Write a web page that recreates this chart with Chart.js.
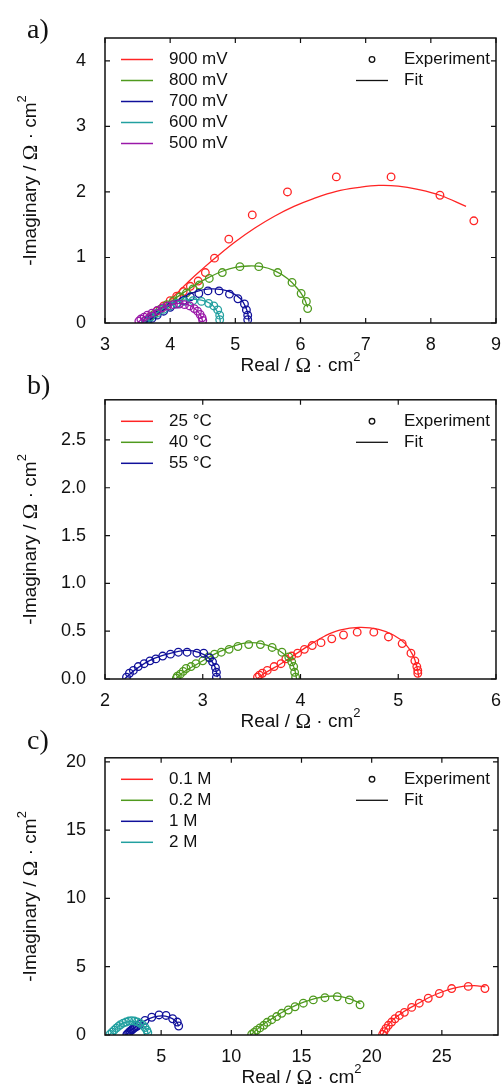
<!DOCTYPE html>
<html>
<head>
<meta charset="utf-8">
<script src="https://cdn.jsdelivr.net/npm/chart.js@4.4.1/dist/chart.umd.min.js"></script>
<style>
  body { margin: 0; background: #fff; width: 504px; height: 1089px; position: relative; overflow: hidden; }
  canvas { position: absolute; left: 0; }
  .lbl { position: absolute; left: 27px; font-family: 'Liberation Serif', 'DejaVu Serif', serif; font-size: 28px; color: #111; line-height: 30px; }
</style>
</head>
<body>
<canvas id="chartA" width="504" height="378" style="top:0px"></canvas>
<canvas id="chartB" width="504" height="358" style="top:378px"></canvas>
<canvas id="chartC" width="504" height="353" style="top:736px"></canvas>
<div class="lbl" style="top:14px">a)</div>
<div class="lbl" style="top:370px">b)</div>
<div class="lbl" style="top:725px">c)</div>
<script>
// ---- panel a: potential ----
const labelsA = ['900 mV', '800 mV', '700 mV', '600 mV', '500 mV'];
const exp900 = [[8.66,1.56],[8.14,1.95],[7.39,2.23],[6.55,2.23],[5.80,2.00],[5.26,1.65],[4.90,1.28],[4.68,0.99],[4.54,0.77],[4.43,0.64],[4.31,0.56],[4.20,0.48],[4.10,0.41],[4.00,0.34],[3.90,0.26],[3.80,0.18],[3.70,0.10],[3.62,0.04]];
const fit900 = [[3.62,0.02],[3.80,0.17],[3.95,0.30],[4.10,0.45],[4.30,0.65],[4.50,0.83],[4.70,1.00],[5.00,1.24],[5.30,1.45],[5.60,1.63],[5.90,1.78],[6.20,1.90],[6.55,2.01],[6.90,2.07],[7.20,2.10],[7.50,2.09],[7.80,2.04],[8.14,1.95],[8.54,1.78]];
const exp800 = [[6.11,0.22],[6.09,0.33],[6.01,0.45],[5.87,0.62],[5.65,0.77],[5.36,0.86],[5.07,0.86],[4.80,0.77],[4.60,0.68],[4.45,0.58],[4.35,0.52],[4.25,0.46],[4.15,0.40],[4.05,0.34],[3.95,0.28],[3.85,0.21],[3.75,0.13],[3.67,0.06]];
const fit800 = [[3.63,0.02],[3.80,0.17],[4.00,0.32],[4.20,0.46],[4.40,0.59],[4.60,0.70],[4.80,0.79],[5.00,0.85],[5.20,0.87],[5.40,0.86],[5.60,0.80],[5.80,0.68],[5.95,0.53],[6.05,0.39],[6.11,0.24]];
const exp700 = [[5.19,0.05],[5.19,0.12],[5.17,0.20],[5.14,0.29],[5.04,0.37],[4.91,0.44],[4.75,0.49],[4.58,0.49],[4.44,0.45],[4.31,0.40],[4.20,0.34],[4.10,0.29],[4.00,0.24],[3.90,0.18],[3.80,0.12],[3.72,0.07],[3.65,0.03]];
const fit700 = [[3.62,0.00],[3.80,0.13],[4.00,0.27],[4.20,0.40],[4.40,0.48],[4.60,0.52],[4.80,0.51],[4.95,0.46],[5.08,0.37],[5.16,0.24],[5.20,0.10],[5.21,0.02]];
const exp600 = [[4.76,0.05],[4.76,0.12],[4.73,0.20],[4.67,0.26],[4.59,0.30],[4.48,0.33],[4.35,0.34],[4.22,0.33],[4.10,0.30],[4.00,0.26],[3.90,0.21],[3.80,0.15],[3.70,0.09],[3.62,0.04]];
const fit600 = [[3.58,0.00],[3.80,0.16],[4.00,0.28],[4.20,0.35],[4.40,0.36],[4.55,0.33],[4.65,0.27],[4.72,0.18],[4.76,0.08],[4.77,0.01]];
const exp500 = [[3.52,0.03],[3.55,0.06],[3.60,0.09],[3.65,0.12],[3.72,0.15],[3.80,0.19],[3.88,0.23],[3.96,0.26],[4.05,0.28],[4.14,0.29],[4.22,0.28],[4.30,0.26],[4.37,0.22],[4.42,0.18],[4.46,0.13],[4.49,0.08],[4.50,0.04]];
const fit500 = [[3.50,0.00],[3.60,0.09],[3.80,0.20],[4.00,0.28],[4.15,0.30],[4.30,0.27],[4.40,0.20],[4.47,0.11],[4.50,0.02]];
const xTicksA = [3, 4, 5, 6, 7, 8, 9];
const yTicksA = [0, 1, 2, 3, 4];

// ---- panel b: temperature ----
const labelsB = ['25 °C', '40 °C', '55 °C'];
const exp25 = [[5.20,0.06],[5.20,0.09],[5.19,0.13],[5.17,0.19],[5.13,0.27],[5.04,0.37],[4.90,0.44],[4.75,0.49],[4.58,0.49],[4.44,0.46],[4.32,0.42],[4.21,0.38],[4.12,0.35],[4.04,0.31],[3.97,0.27],[3.91,0.24],[3.85,0.21],[3.80,0.16],[3.73,0.13],[3.66,0.09],[3.61,0.06],[3.58,0.04],[3.56,0.02]];
const fit25 = [[3.55,0.00],[3.65,0.07],[3.80,0.16],[3.95,0.26],[4.10,0.36],[4.25,0.45],[4.40,0.51],[4.60,0.54],[4.80,0.52],[4.95,0.46],[5.07,0.37],[5.15,0.25],[5.19,0.13],[5.21,0.02]];
const exp40 = [[3.95,0.02],[3.94,0.07],[3.93,0.13],[3.91,0.18],[3.88,0.23],[3.81,0.28],[3.71,0.33],[3.59,0.36],[3.47,0.36],[3.36,0.34],[3.27,0.31],[3.19,0.28],[3.12,0.26],[3.06,0.23],[3.00,0.19],[2.93,0.16],[2.88,0.13],[2.83,0.11],[2.80,0.08],[2.77,0.05],[2.74,0.03],[2.73,0.01]];
const fit40 = [[2.72,0.00],[2.80,0.07],[2.95,0.16],[3.10,0.25],[3.25,0.32],[3.40,0.37],[3.50,0.38],[3.60,0.37],[3.72,0.33],[3.82,0.27],[3.90,0.19],[3.94,0.10],[3.96,0.00]];
const exp55 = [[3.14,0.02],[3.14,0.07],[3.13,0.12],[3.10,0.18],[3.07,0.22],[3.01,0.27],[2.94,0.27],[2.84,0.28],[2.75,0.28],[2.67,0.26],[2.59,0.24],[2.52,0.21],[2.46,0.19],[2.40,0.16],[2.34,0.13],[2.29,0.09],[2.25,0.06],[2.22,0.02]];
const fit55 = [[2.20,0.00],[2.30,0.09],[2.45,0.19],[2.60,0.25],[2.75,0.29],[2.85,0.30],[2.95,0.28],[3.05,0.23],[3.12,0.14],[3.15,0.02]];
const xTicksB = [2, 3, 4, 5, 6];
const yTicksB = [0, 0.5, 1.0, 1.5, 2.0, 2.5];

// ---- panel c: concentration ----
const labelsC = ['0.1 M', '0.2 M', '1 M', '2 M'];
const exp01 = [[28.07,3.40],[26.88,3.56],[25.70,3.40],[24.82,3.04],[24.03,2.69],[23.39,2.33],[22.85,2.02],[22.33,1.66],[21.97,1.43],[21.66,1.19],[21.42,0.95],[21.19,0.71],[21.02,0.48],[20.88,0.24],[20.78,0.05]];
const fit01 = [[20.75,0.00],[20.90,0.30],[21.10,0.65],[21.40,1.00],[21.80,1.35],[22.30,1.72],[22.90,2.08],[23.50,2.42],[24.20,2.80],[25.00,3.15],[25.80,3.42],[26.60,3.58],[27.30,3.62],[28.10,3.52]];
const exp02 = [[19.17,2.21],[18.41,2.57],[17.55,2.80],[16.67,2.73],[15.84,2.57],[15.13,2.33],[14.54,2.07],[14.06,1.83],[13.59,1.59],[13.23,1.35],[12.88,1.12],[12.55,0.93],[12.31,0.71],[12.04,0.52],[11.81,0.36],[11.62,0.19],[11.45,0.05]];
const fit02 = [[11.40,0.00],[11.80,0.38],[12.30,0.80],[12.90,1.20],[13.60,1.65],[14.40,2.08],[15.20,2.42],[16.00,2.68],[16.80,2.82],[17.50,2.85],[18.20,2.72],[18.80,2.50],[19.20,2.30]];
const exp1 = [[6.25,0.66],[6.15,0.95],[5.82,1.19],[5.35,1.43],[4.85,1.47],[4.33,1.30],[3.85,1.07],[3.49,0.78],[3.30,0.66],[3.17,0.58],[3.06,0.50],[2.96,0.42],[2.87,0.34],[2.78,0.26],[2.70,0.18],[2.62,0.10],[2.55,0.02]];
const fit1 = [[2.50,0.00],[2.80,0.30],[3.20,0.60],[3.70,0.95],[4.20,1.22],[4.80,1.38],[5.30,1.38],[5.80,1.20],[6.10,0.95],[6.25,0.65]];
const exp2 = [[4.05,0.18],[3.98,0.36],[3.85,0.55],[3.70,0.72],[3.50,0.86],[3.30,0.96],[3.10,1.02],[2.90,1.04],[2.70,1.02],[2.50,0.95],[2.30,0.87],[2.10,0.75],[1.95,0.63],[1.80,0.50],[1.65,0.36],[1.50,0.20],[1.35,0.05]];
const fit2 = [[1.30,0.00],[1.60,0.32],[2.00,0.68],[2.40,0.90],[2.80,1.00],[3.20,0.97],[3.55,0.82],[3.80,0.60],[4.00,0.32],[4.08,0.10]];
const xTicksC = [5, 10, 15, 20, 25];
const yTicksC = [0, 5, 10, 15, 20];

const RED = '#ff2424', GREEN = '#4f9a1e', BLUE = '#10109a', TEAL = '#22a0a0', PURPLE = '#9a18a8';
const SANS = "'Liberation Sans', Arial, sans-serif";
const SERIF = "'Liberation Serif', 'DejaVu Serif', serif";

const pts = arr => arr.map(p => ({ x: p[0], y: p[1] }));

// box, inward ticks, axis titles and the two legends
const framePlugin = {
  id: 'frame',
  afterDraw(chart, args, opts) {
    const { ctx, chartArea: a, scales } = chart;
    ctx.save();
    ctx.strokeStyle = '#111';
    ctx.lineWidth = 1.5;
    ctx.strokeRect(a.left, a.top, a.right - a.left, a.bottom - a.top);
    ctx.lineWidth = 1.2;
    ctx.beginPath();
    scales.x.ticks.forEach(t => {
      const px = scales.x.getPixelForValue(t.value);
      ctx.moveTo(px, a.bottom); ctx.lineTo(px, a.bottom - 5);
      ctx.moveTo(px, a.top); ctx.lineTo(px, a.top + 5);
    });
    scales.y.ticks.forEach(t => {
      const py = scales.y.getPixelForValue(t.value);
      ctx.moveTo(a.left, py); ctx.lineTo(a.left + 5, py);
      ctx.moveTo(a.right, py); ctx.lineTo(a.right - 5, py);
    });
    ctx.stroke();

    // axis titles
    drawUnit(ctx, 'Real / ', (a.left + a.right) / 2, a.bottom + 43, false);
    drawUnit(ctx, '-Imaginary / ', 31, (a.top + a.bottom) / 2, true);

    // legend
    ctx.font = '17px ' + SANS;
    ctx.fillStyle = '#111';
    ctx.textBaseline = 'middle';
    ctx.textAlign = 'left';
    const y0 = a.top + 21.5;
    opts.labels.forEach((lab, i) => {
      const y = y0 + i * 21;
      ctx.strokeStyle = opts.colors[i];
      ctx.lineWidth = 1.5;
      ctx.beginPath(); ctx.moveTo(121, y); ctx.lineTo(153, y); ctx.stroke();
      ctx.fillText(lab, 169, y);
    });
    ctx.strokeStyle = '#111';
    ctx.lineWidth = 1.3;
    ctx.beginPath(); ctx.arc(372, y0, 2.8, 0, Math.PI * 2); ctx.stroke();
    ctx.fillText('Experiment', 404, y0);
    ctx.beginPath(); ctx.moveTo(356, y0 + 21); ctx.lineTo(388, y0 + 21); ctx.stroke();
    ctx.fillText('Fit', 404, y0 + 21);
    ctx.restore();
  }
};

function drawUnit(ctx, head, cx, cy, rotate) {
  const parts = [
    { t: head, f: '19px ' + SANS, dy: 0 },
    { t: 'Ω', f: '21px ' + SERIF, dy: 0 },
    { t: ' · cm', f: '19px ' + SANS, dy: 0 },
    { t: '2', f: '13px ' + SANS, dy: -9 }
  ];
  let w = 0;
  parts.forEach(p => { ctx.font = p.f; p.w = ctx.measureText(p.t).width; w += p.w; });
  ctx.save();
  ctx.translate(cx, cy);
  if (rotate) ctx.rotate(-Math.PI / 2);
  ctx.fillStyle = '#111';
  ctx.textBaseline = 'middle';
  ctx.textAlign = 'left';
  let x = -w / 2;
  parts.forEach(p => { ctx.font = p.f; ctx.fillText(p.t, x, p.dy); x += p.w; });
  ctx.restore();
}

function makeChart(id, cfg) {
  const datasets = [];
  cfg.series.forEach((s, i) => {
    datasets.push({
      data: pts(s.fit), showLine: true, pointRadius: 0, borderColor: s.color,
      borderWidth: 1.3, tension: 0.4, order: -i * 2
    });
    datasets.push({
      data: pts(s.exp), showLine: false, pointRadius: 3.8, pointStyle: 'circle',
      borderColor: s.color, backgroundColor: 'rgba(0,0,0,0)', pointBorderWidth: 1.3,
      order: -i * 2 - 1
    });
  });
  return new Chart(document.getElementById(id), {
    type: 'scatter',
    data: { datasets },
    options: {
      responsive: false,
      animation: false,
      layout: { padding: { top: cfg.padTop, right: 6, left: 0, bottom: 0 } },
      plugins: {
        legend: { display: false },
        tooltip: { enabled: false },
        frame: { labels: cfg.series.map(s => s.label), colors: cfg.series.map(s => s.color) }
      },
      scales: {
        x: {
          type: 'linear', position: 'bottom', min: cfg.xMin, max: cfg.xMax,
          grid: { display: false }, border: { display: false },
          ticks: { color: '#111', font: { family: SANS, size: 18 }, padding: 3, maxRotation: 0 },
          afterBuildTicks: s => { s.ticks = cfg.xTicks.map(v => ({ value: v })); },
          afterFit: s => { s.height = cfg.axisH; }
        },
        y: {
          type: 'linear', position: 'left', min: 0, max: cfg.yMax,
          grid: { display: false }, border: { display: false },
          ticks: { color: '#111', font: { family: SANS, size: 18 }, padding: 11,
                   callback: v => v.toFixed(cfg.yDec) },
          afterBuildTicks: s => { s.ticks = cfg.yTicks.map(v => ({ value: v })); },
          afterFit: s => { s.width = 105; }
        }
      }
    },
    plugins: [framePlugin]
  });
}

makeChart('chartA', {
  padTop: 38, axisH: 55, xMin: 3, xMax: 9, yMax: 4.35, yDec: 0, xTicks: xTicksA, yTicks: yTicksA,
  series: [
    { label: labelsA[0], color: RED, exp: exp900, fit: fit900 },
    { label: labelsA[1], color: GREEN, exp: exp800, fit: fit800 },
    { label: labelsA[2], color: BLUE, exp: exp700, fit: fit700 },
    { label: labelsA[3], color: TEAL, exp: exp600, fit: fit600 },
    { label: labelsA[4], color: PURPLE, exp: exp500, fit: fit500 }
  ]
});

makeChart('chartB', {
  padTop: 15, axisH: 57, xMin: 2, xMax: 6, yMax: 2.92, yDec: 1, xTicks: xTicksB, yTicks: yTicksB,
  series: [
    { label: labelsB[0], color: RED, exp: exp25, fit: fit25 },
    { label: labelsB[1], color: GREEN, exp: exp40, fit: fit40 },
    { label: labelsB[2], color: BLUE, exp: exp55, fit: fit55 }
  ]
});

makeChart('chartC', {
  padTop: 14, axisH: 54, xMin: 1, xMax: 29, yMax: 20.3, yDec: 0, xTicks: xTicksC, yTicks: yTicksC,
  series: [
    { label: labelsC[0], color: RED, exp: exp01, fit: fit01 },
    { label: labelsC[1], color: GREEN, exp: exp02, fit: fit02 },
    { label: labelsC[2], color: BLUE, exp: exp1, fit: fit1 },
    { label: labelsC[3], color: TEAL, exp: exp2, fit: fit2 }
  ]
});
</script>
</body>
</html>
